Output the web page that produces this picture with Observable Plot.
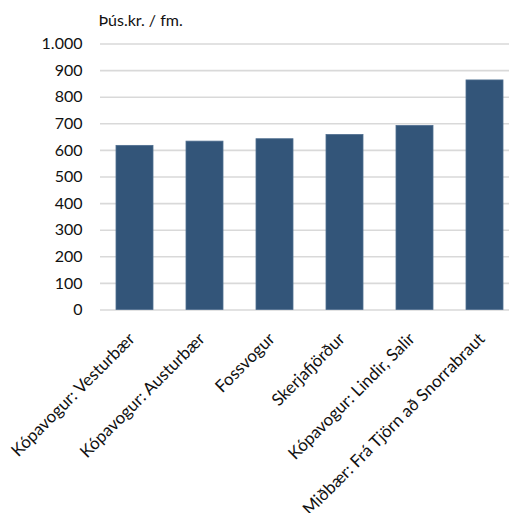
<!DOCTYPE html>
<html>
<head>
<meta charset="utf-8">
<script src="https://cdn.jsdelivr.net/npm/d3@7"></script>
<script src="https://cdn.jsdelivr.net/npm/@observablehq/plot@0.6"></script>
<style>
  html, body { margin: 0; padding: 0; background: #fff; }
  #chart svg { display: block; }
</style>
</head>
<body>
<div id="chart"></div>
<script>
// Price per square metre by neighbourhood (thousand ISK)
const areas = [
  "Kópavogur: Vesturbær",
  "Kópavogur: Austurbær",
  "Fossvogur",
  "Skerjafjörður",
  "Kópavogur: Lindir, Salir",
  "Miðbær: Frá Tjörn að Snorrabraut"
];
const prices = [617, 633, 642, 658, 692, 863];
const yTicks = [0, 100, 200, 300, 400, 500, 600, 700, 800, 900, 1000];
const unitLabel = "Þús.kr. / fm.";

const rows = areas.map((area, i) => ({area, price: prices[i]}));
const fmt = d3.format(",");
const isl = v => fmt(v).replace(/,/g, ".");

const chart = Plot.plot({
  width: 509,
  height: 513,
  marginLeft: 100,
  marginRight: 0,
  marginTop: 43.5,
  marginBottom: 203.5,
  style: {fontFamily: "Lato", fontSize: "16px", color: "#111", background: "#fff"},
  x: {domain: areas, range: [100, 520], paddingInner: 0.47, paddingOuter: 0.235, label: null},
  y: {domain: [0, 1000], label: null},
  marks: [
    Plot.ruleY(yTicks, {stroke: "#d9d9d9", strokeWidth: 1.6}),
    Plot.barY(rows, {x: "area", y: "price", fill: "#335579", stroke: "#4f6e90", strokeWidth: 0.8}),
    Plot.axisY(yTicks, {tickSize: 0, tickPadding: 18, tickFormat: isl, fontSize: 16, fill: "#111"}),
    Plot.axisX({tickSize: 0, tickPadding: 26, dx: -3, tickRotate: -45, fontSize: 17, fill: "#111", label: null}),
    Plot.text([unitLabel], {frameAnchor: "top-left", dx: -2, dy: -29, textAnchor: "start", fontSize: 16, fill: "#111"})
  ]
});
document.getElementById("chart").append(chart);
</script>
</body>
</html>
